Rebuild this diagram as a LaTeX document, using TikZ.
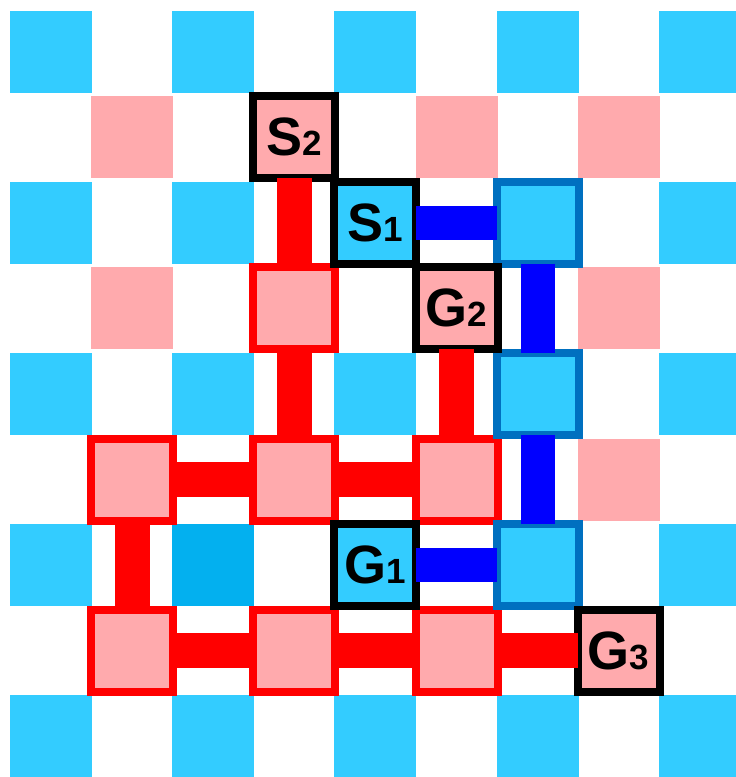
\documentclass[tikz,border=0pt]{standalone}
\usepackage{fontspec}
\setmainfont{Liberation Sans}
\definecolor{cellblue}{HTML}{33CCFF}
\definecolor{cellpink}{HTML}{FFAAAD}
\definecolor{darkcell}{HTML}{03B0EF}
\definecolor{frameblue}{HTML}{0070C0}
\definecolor{pathblue}{HTML}{0000FF}
\definecolor{pathred}{HTML}{FF0000}
\newcommand{\lbl}[2]{{\bfseries\fontsize{54}{54}\selectfont #1}{\bfseries\fontsize{35}{35}\selectfont #2}}
\begin{document}
\begin{tikzpicture}[x=1pt,y=-1pt,
  cell/.style={rectangle,minimum size=82pt,inner sep=0pt,outer sep=0pt},
  bluecell/.style={cell,fill=cellblue},
  pinkcell/.style={cell,fill=cellpink},
  darkblue/.style={cell,fill=darkcell},
  terminal/.style={draw=black,line width=8pt},
  redframe/.style={draw=pathred,line width=8pt},
  blueframe/.style={draw=frameblue,line width=8pt},
  redpath/.style={draw=pathred,line width=35pt},
  bluepath/.style={draw=pathblue,line width=34pt}]
\useasboundingbox (0,0) rectangle (736,777);
\clip (0,0) rectangle (736,777);
\def\px#1{51+81.1*#1}
\def\py#1{51.5+85.6*#1}
% plain blue cells
\foreach \r/\c in {0/0,0/2,0/4,0/6,0/8,2/0,2/2,2/8,4/0,4/2,4/4,4/8,6/0,6/8,8/0,8/2,8/4,8/6,8/8}
  \node[bluecell] (b-\r-\c) at ({\px{\c}},{\py{\r}}) {};
% plain pink cells
\foreach \r/\c in {1/1,1/5,1/7,3/1,3/7,5/7}
  \node[pinkcell] (p-\r-\c) at ({\px{\c}},{\py{\r}}) {};
% darker blue cell
\node[darkblue] (d-6-2) at ({\px{2}},{\py{6}}) {};
% red-framed path cells
\foreach \r/\c in {3/3,5/1,5/3,5/5,7/1,7/3,7/5}
  \node[pinkcell,redframe] (r-\r-\c) at ({\px{\c}},{\py{\r}}) {};
% blue-framed path cells
\foreach \r/\c in {2/6,4/6,6/6}
  \node[bluecell,blueframe] (u-\r-\c) at ({\px{\c}},{\py{\r}}) {};
% start and goal cells
\node[pinkcell,terminal] (S2) at ({\px{3}},{\py{1}}) {\lbl{S}{2}};
\node[bluecell,terminal] (S1) at ({\px{4}},{\py{2}}) {\lbl{S}{1}};
\node[pinkcell,terminal] (G2) at ({\px{5}},{\py{3}}) {\lbl{G}{2}};
\node[bluecell,terminal] (G1) at ({\px{4}},{\py{6}}) {\lbl{G}{1}};
\node[pinkcell,terminal] (G3) at ({\px{7}},{\py{7}}) {\lbl{G}{3}};
% red route
\draw[redpath] (S2) -- (r-3-3);
\draw[redpath] (r-3-3) -- (r-5-3);
\draw[redpath] (r-5-1) -- (r-5-3);
\draw[redpath] (r-5-3) -- (r-5-5);
\draw[redpath] (G2) -- (r-5-5);
\draw[redpath] (r-5-1) -- (r-7-1);
\draw[redpath] (r-7-1) -- (r-7-3);
\draw[redpath] (r-7-3) -- (r-7-5);
\draw[redpath] (r-7-5) -- (G3);
% blue route
\draw[bluepath] (S1) -- (u-2-6);
\draw[bluepath] (u-2-6) -- (u-4-6);
\draw[bluepath] (u-4-6) -- (u-6-6);
\draw[bluepath] (G1) -- (u-6-6);
\end{tikzpicture}
\end{document}
